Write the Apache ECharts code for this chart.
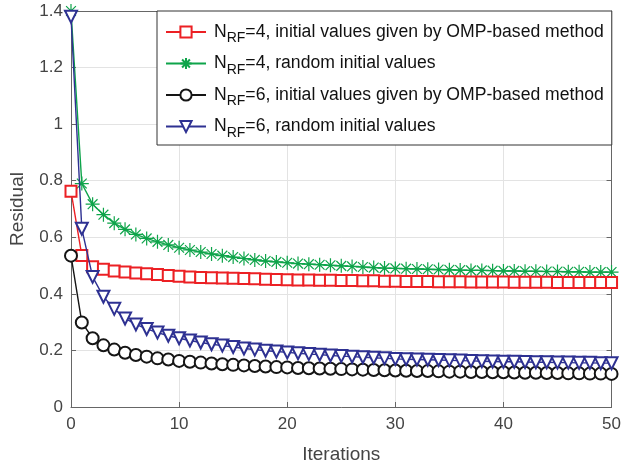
<!DOCTYPE html>
<html>
<head>
<meta charset="utf-8">
<script src="https://cdn.jsdelivr.net/npm/echarts@6/dist/echarts.min.js"></script>
<style>
  html, body { margin: 0; padding: 0; background: #fff; }
  #chart { width: 624px; height: 469px; }
</style>
</head>
<body>
<div id="chart"></div>
<script>
// iterations 0..50
var iterations = [];
for (var i = 0; i <= 50; i++) iterations.push(i);

var seriesNames = [
    'N_RF=4, initial values given by OMP-based method',
    'N_RF=4, random initial values',
    'N_RF=6, initial values given by OMP-based method',
    'N_RF=6, random initial values'
];

// N_RF=4, OMP 初值
var rf4Omp = [0.763,0.536,0.496,0.487,0.481,0.477,0.474,0.471,0.468,0.465,0.462,0.460,0.458,0.457,0.456,0.455,0.454,0.453,0.452,0.451,0.450,0.449,0.449,0.448,0.448,0.447,0.447,0.446,0.446,0.445,0.445,0.444,0.444,0.444,0.443,0.443,0.443,0.442,0.442,0.442,0.442,0.441,0.441,0.441,0.441,0.440,0.440,0.440,0.440,0.440,0.440];
// N_RF=4, 随机初值
var rf4Rand = [1.400,0.790,0.717,0.680,0.650,0.628,0.610,0.596,0.584,0.573,0.563,0.555,0.548,0.541,0.535,0.530,0.525,0.520,0.516,0.513,0.510,0.507,0.505,0.503,0.501,0.499,0.497,0.495,0.493,0.491,0.490,0.489,0.488,0.487,0.486,0.485,0.484,0.483,0.483,0.482,0.481,0.481,0.480,0.480,0.479,0.479,0.478,0.478,0.477,0.477,0.477];
// N_RF=6, OMP 初值
var rf6Omp = [0.535,0.299,0.243,0.218,0.203,0.192,0.184,0.178,0.172,0.168,0.163,0.160,0.157,0.154,0.151,0.149,0.147,0.145,0.143,0.141,0.140,0.138,0.137,0.136,0.135,0.134,0.133,0.132,0.131,0.130,0.129,0.128,0.127,0.127,0.126,0.125,0.125,0.124,0.124,0.123,0.123,0.122,0.121,0.121,0.120,0.120,0.119,0.119,0.118,0.118,0.117];
// N_RF=6, 随机初值
var rf6Rand = [1.380,0.630,0.460,0.390,0.347,0.313,0.292,0.276,0.263,0.252,0.243,0.235,0.228,0.222,0.217,0.212,0.207,0.203,0.199,0.196,0.193,0.190,0.187,0.185,0.182,0.180,0.178,0.176,0.174,0.172,0.170,0.169,0.168,0.167,0.166,0.165,0.164,0.163,0.162,0.161,0.160,0.160,0.159,0.158,0.158,0.157,0.157,0.156,0.156,0.155,0.155];

function pairs(ys) {
    return iterations.map(function (x, k) { return [x, ys[k]]; });
}

var asterisk = 'path://M0 5 L10 5 M5 0 L5 10 M1.5 1.5 L8.5 8.5 M8.5 1.5 L1.5 8.5';
var font = "'Liberation Sans', Arial, sans-serif";
var axisGray = '#444';
var lineGray = '#666';

function mkSeries(name, data, color, symbol, size, extra) {
    var s = {
        name: name,
        type: 'line',
        data: pairs(data),
        symbol: symbol,
        symbolSize: size,
        showAllSymbol: true,
        lineStyle: { color: color, width: 1.4 },
        itemStyle: { color: color, borderColor: color, borderWidth: 1.4 },
        emphasis: { disabled: true },
        animation: false
    };
    if (extra) for (var k in extra) s[k] = extra[k];
    return s;
}

var myChart = echarts.init(document.getElementById('chart'));

var option = {
    backgroundColor: '#fff',
    textStyle: { fontFamily: font },
    grid: { left: 70, right: 7, top: 11, bottom: 60 },
    legend: {
        orient: 'vertical',
        left: 157,
        top: 11,
        itemWidth: 40,
        itemHeight: 14,
        itemGap: 9,
        padding: [12, 8, 5, 8],
        backgroundColor: '#fff',
        borderColor: '#333',
        borderWidth: 1,
        borderRadius: 0,
        data: seriesNames,
        formatter: function (name) {
            return name.replace('N_RF', 'N{sub|RF}');
        },
        textStyle: {
            fontFamily: font,
            fontSize: 17.6,
            color: '#111',
            padding: [0, 0, 0, 3],
            rich: {
                sub: { fontSize: 14, color: '#111', padding: [13, 0, 0, 0], fontFamily: font }
            }
        }
    },
    xAxis: [{
        type: 'value',
        min: 0, max: 50, interval: 10,
        name: 'Iterations',
        nameLocation: 'middle',
        nameGap: 38,
        nameTextStyle: { fontSize: 19, color: axisGray, fontFamily: font },
        axisLine: { lineStyle: { color: lineGray, width: 1 } },
        axisTick: { inside: true, length: 5, lineStyle: { color: lineGray } },
        axisLabel: { fontSize: 17, color: axisGray, margin: 9, fontFamily: font },
        splitLine: { show: true, lineStyle: { color: '#e3e3e3', width: 1 } }
    }, {
        type: 'value', position: 'top',
        min: 0, max: 50, interval: 10,
        axisLine: { show: true, onZero: false, lineStyle: { color: lineGray, width: 1 } },
        axisTick: { inside: true, length: 5, lineStyle: { color: lineGray } },
        axisLabel: { show: false },
        splitLine: { show: false }
    }],
    yAxis: [{
        type: 'value',
        min: 0, max: 1.4, interval: 0.2,
        name: 'Residual',
        nameLocation: 'middle',
        nameGap: 44,
        nameTextStyle: { fontSize: 19, color: axisGray, fontFamily: font },
        axisLine: { show: true, lineStyle: { color: lineGray, width: 1 } },
        axisTick: { show: true, inside: true, length: 5, lineStyle: { color: lineGray } },
        axisLabel: { fontSize: 17, color: axisGray, margin: 8, fontFamily: font },
        splitLine: { show: true, lineStyle: { color: '#e3e3e3', width: 1 } }
    }, {
        type: 'value', position: 'right',
        min: 0, max: 1.4, interval: 0.2,
        axisLine: { show: true, onZero: false, lineStyle: { color: lineGray, width: 1 } },
        axisTick: { show: true, inside: true, length: 5, lineStyle: { color: lineGray } },
        axisLabel: { show: false },
        splitLine: { show: false }
    }],
    series: [
        mkSeries(seriesNames[0], rf4Omp, '#ec2024', 'emptyRect', 11, { z: 3 }),
        mkSeries(seriesNames[1], rf4Rand, '#0ea44a', asterisk, 14, { z: 2, itemStyle: { color: '#0ea44a', borderColor: '#0ea44a', borderWidth: 1.2 } }),
        mkSeries(seriesNames[2], rf6Omp, '#151515', 'emptyCircle', 12, { z: 4 }),
        mkSeries(seriesNames[3], rf6Rand, '#2e3192', 'emptyTriangle', 12, { z: 5, symbolRotate: 180 })
    ]
};

myChart.setOption(option);
</script>
</body>
</html>
